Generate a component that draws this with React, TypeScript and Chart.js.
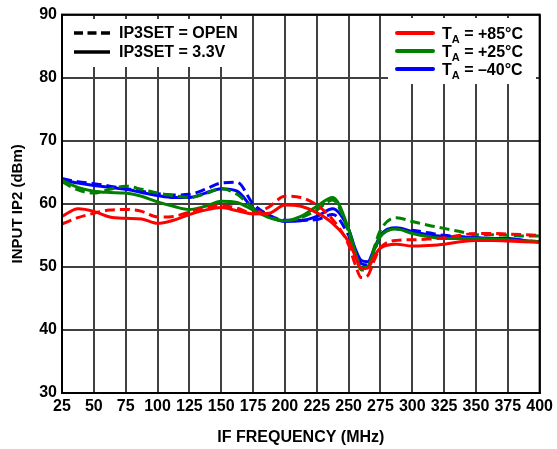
import React, { useEffect, useRef } from "react";
import { Chart, registerables } from "chart.js";

Chart.register(...registerables);

const FREQ = [25, 37.5, 50, 62.5, 75, 87.5, 100, 112.5, 125, 137.5, 150, 162.5, 175, 187.5, 200, 212.5, 225, 237.5, 250, 255, 260, 265, 270, 275, 287.5, 300, 312.5, 325, 337.5, 350, 362.5, 375, 387.5, 400];

const RED_OPEN = [56.8, 57.8, 58.5, 59.0, 59.1, 58.8, 57.9, 58.0, 58.7, 59.4, 59.7, 59.3, 58.5, 59.5, 61.2, 61.0, 59.8, 57.5, 53.5, 50.5, 48.3, 48.6, 51.0, 53.0, 54.2, 54.3, 54.4, 54.6, 55.0, 55.3, 55.3, 55.2, 55.1, 55.0];
const RED_3V3 = [58.0, 59.2, 58.8, 57.9, 57.7, 57.6, 56.9, 57.4, 58.3, 59.0, 59.4, 58.9, 58.4, 58.5, 59.8, 59.6, 58.6, 56.9, 54.0, 51.8, 49.7, 49.8, 51.6, 53.0, 53.6, 53.3, 53.4, 53.6, 54.0, 54.2, 54.2, 54.1, 54.0, 53.9];
const GREEN_OPEN = [63.5, 62.2, 61.7, 62.3, 62.8, 62.3, 61.7, 61.3, 61.0, 61.6, 62.4, 61.5, 59.3, 58.0, 57.3, 57.8, 59.0, 60.6, 55.5, 52.0, 49.5, 49.8, 53.0, 55.8, 57.8, 57.2, 56.6, 56.1, 55.6, 55.1, 55.1, 55.0, 54.9, 54.9];
const GREEN_3V3 = [63.7, 62.6, 62.0, 61.8, 61.7, 61.2, 60.3, 59.6, 59.1, 59.6, 60.4, 60.2, 59.0, 57.8, 57.3, 58.0, 59.6, 61.0, 56.0, 52.5, 49.8, 50.0, 52.6, 54.8, 56.0, 55.3, 54.8, 54.5, 54.5, 54.5, 54.4, 54.3, 54.1, 54.0];
const BLUE_OPEN = [64.0, 63.5, 63.2, 62.8, 62.4, 62.0, 61.6, 61.4, 61.5, 62.3, 63.3, 63.4, 60.0, 58.2, 57.4, 57.4, 57.5, 58.3, 55.0, 52.5, 50.5, 50.3, 52.5, 54.8, 56.0, 55.8, 55.4, 55.0, 54.8, 54.6, 54.5, 54.5, 54.2, 54.0];
const BLUE_3V3 = [63.8, 63.3, 62.9, 62.6, 62.3, 61.8, 61.3, 61.0, 61.0, 61.7, 62.4, 62.0, 59.3, 58.0, 57.2, 57.3, 58.0, 59.2, 56.0, 53.0, 51.0, 50.8, 52.8, 55.0, 56.2, 55.6, 55.1, 54.8, 54.7, 54.6, 54.5, 54.5, 54.2, 53.9];

const MODE_LABELS = ["IP3SET = OPEN", "IP3SET = 3.3V"];
const TEMP_SUFFIXES = [" = +85°C", " = +25°C", " = –40°C"];
const TEMP_COLORS = ["#ff0000", "#008000", "#0000ff"];

const X_TITLE = "IF FREQUENCY (MHz)";
const Y_TITLE = "INPUT IP2 (dBm)";

const FONT = '"Liberation Sans", Arial, Helvetica, sans-serif';
const DASH = [10, 5];

const toPts = (arr: number[]) => FREQ.map((f, i) => ({ x: f, y: arr[i] }));

const legendPlugin = {
  id: "customLegends",
  beforeDatasetsDraw(chart: any) {
    const ctx = chart.ctx;
    ctx.save();
    ctx.fillStyle = "#ffffff";
    ctx.fillRect(64, 19, 184, 48);
    ctx.fillRect(388, 18, 148, 66);
    ctx.restore();
  },
  afterDatasetsDraw(chart: any) {
    const ctx = chart.ctx;
    const a = chart.chartArea;
    ctx.save();
    ctx.strokeStyle = "#000";
    ctx.lineWidth = 2;
    ctx.strokeRect(a.left, a.top, a.right - a.left, a.bottom - a.top);

    ctx.lineWidth = 3.5;
    ctx.lineCap = "butt";
    ctx.strokeStyle = "#000";
    const ly = [33, 52];
    for (let i = 0; i < 2; i++) {
      ctx.setLineDash(i === 0 ? [9, 4.5] : []);
      ctx.beginPath();
      ctx.moveTo(74, ly[i]);
      ctx.lineTo(110, ly[i]);
      ctx.stroke();
    }
    ctx.setLineDash([]);
    ctx.fillStyle = "#000";
    ctx.font = "bold 16px " + FONT;
    ctx.textBaseline = "middle";
    ctx.textAlign = "left";
    for (let i = 0; i < 2; i++) ctx.fillText(MODE_LABELS[i], 119, ly[i] + 1);

    const ry = [33, 51, 69];
    ctx.lineWidth = 4;
    ctx.lineCap = "round";
    for (let i = 0; i < 3; i++) {
      ctx.strokeStyle = TEMP_COLORS[i];
      ctx.beginPath();
      ctx.moveTo(397, ry[i]);
      ctx.lineTo(433, ry[i]);
      ctx.stroke();
      ctx.textBaseline = "alphabetic";
      ctx.fillStyle = "#000";
      const base = ry[i] + 6;
      let x = 442;
      ctx.font = "bold 16px " + FONT;
      ctx.fillText("T", x, base);
      x += ctx.measureText("T").width;
      ctx.font = "bold 11px " + FONT;
      ctx.fillText("A", x, base + 4);
      x += ctx.measureText("A").width;
      ctx.font = "bold 16px " + FONT;
      ctx.fillText(TEMP_SUFFIXES[i], x, base);
    }
    ctx.restore();
  },
};

export default function App() {
  const ref = useRef<HTMLCanvasElement | null>(null);
  useEffect(() => {
    if (!ref.current) return;
    const mk = (arr: number[], color: string, dashed: boolean) => ({
      data: toPts(arr),
      borderColor: color,
      backgroundColor: color,
      borderWidth: 3,
      borderDash: dashed ? DASH : [],
      pointRadius: 0,
      cubicInterpolationMode: "monotone" as const,
      fill: false,
    });
    const chart = new Chart(ref.current, {
      type: "line",
      data: {
        datasets: [
          mk(RED_OPEN, TEMP_COLORS[0], true),
          mk(RED_3V3, TEMP_COLORS[0], false),
          mk(GREEN_OPEN, TEMP_COLORS[1], true),
          mk(GREEN_3V3, TEMP_COLORS[1], false),
          mk(BLUE_OPEN, TEMP_COLORS[2], true),
          mk(BLUE_3V3, TEMP_COLORS[2], false),
        ],
      },
      options: {
        responsive: false,
        animation: false,
        layout: { padding: { left: 0, right: 17, top: 11, bottom: 0 } },
        plugins: { legend: { display: false }, tooltip: { enabled: false } },
        scales: {
          x: {
            type: "linear",
            min: 25,
            max: 400,
            afterFit: (s: any) => { s.height = 56; },
            ticks: {
              stepSize: 25,
              autoSkip: false,
              maxRotation: 0,
              color: "#000",
              padding: 4,
              font: { family: FONT, size: 16, weight: "bold" },
            },
            grid: { color: "#404040", lineWidth: 2, drawTicks: false },
            border: { display: true, color: "#000", width: 2 },
            title: {
              display: true,
              text: X_TITLE,
              color: "#000",
              font: { family: FONT, size: 16, weight: "bold" },
              padding: { top: 0, bottom: 2 },
            },
          },
          y: {
            type: "linear",
            min: 30,
            max: 90,
            afterFit: (s: any) => { s.width = 62; },
            ticks: {
              stepSize: 10,
              color: "#000",
              padding: 5,
              font: { family: FONT, size: 16, weight: "bold" },
            },
            grid: { color: "#404040", lineWidth: 2, drawTicks: false },
            border: { display: true, color: "#000", width: 2 },
            title: {
              display: true,
              text: Y_TITLE,
              color: "#000",
              font: { family: FONT, size: 15, weight: "bold" },
              padding: { top: 9, bottom: 0 },
            },
          },
        },
      },
      plugins: [legendPlugin],
    });
    return () => chart.destroy();
  }, []);
  return (
    <div style={{ position: "absolute", left: 0, top: 0, width: 557, height: 449, background: "#fff" }}>
      <canvas ref={ref} width={557} height={449} style={{ display: "block" }} />
    </div>
  );
}
